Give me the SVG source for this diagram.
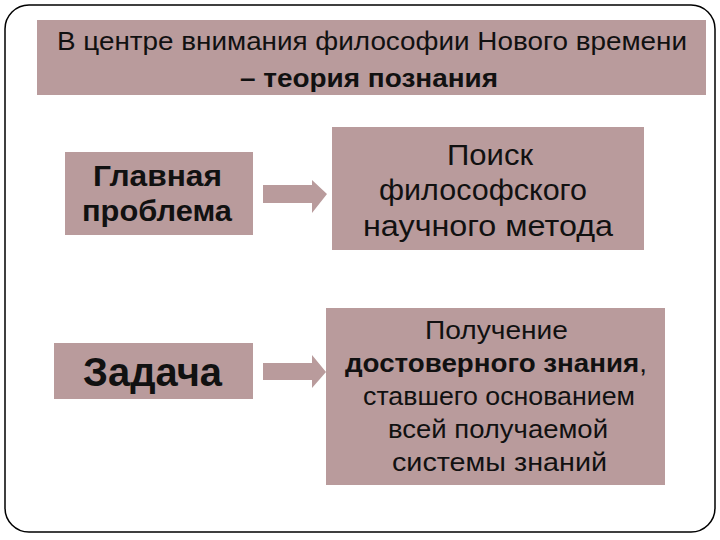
<svg xmlns="http://www.w3.org/2000/svg" width="720" height="540" viewBox="0 0 720 540">
<style>
.box{fill:#b99b9c}
.t{font-family:"Liberation Sans",Arial,sans-serif;fill:#111;text-anchor:middle}
.b{font-weight:bold}
.arrow{fill:#b99b9c}
</style>
<rect x="0" y="0" width="720" height="540" fill="#fff"/>
<rect x="5" y="5" width="710" height="527" rx="24" ry="24" fill="none" stroke="#000" stroke-width="1.5"/>
<g id="title">
<rect class="box" x="37" y="20" width="669" height="75"/>
<text class="t" x="372" y="50" font-size="26" textLength="630" lengthAdjust="spacingAndGlyphs">В центре внимания философии Нового времени</text>
<text class="t b" x="369" y="87" font-size="26" textLength="258" lengthAdjust="spacingAndGlyphs">– теория познания</text>
</g>
<g id="problem">
<rect class="box" x="65" y="152" width="188" height="83"/>
<text class="t b" x="157.5" y="186" font-size="30" textLength="129" lengthAdjust="spacingAndGlyphs">Главная</text>
<text class="t b" x="157" y="221" font-size="30" textLength="150" lengthAdjust="spacingAndGlyphs">проблема</text>
</g>
<g id="search">
<rect class="box" x="332" y="127" width="312" height="123"/>
<text class="t" x="490" y="165" font-size="29" textLength="86" lengthAdjust="spacingAndGlyphs">Поиск</text>
<text class="t" x="483" y="200" font-size="29" textLength="208" lengthAdjust="spacingAndGlyphs">философского</text>
<text class="t" x="488" y="236" font-size="29" textLength="250" lengthAdjust="spacingAndGlyphs">научного метода</text>
</g>
<g id="task">
<rect class="box" x="54" y="343" width="199" height="56"/>
<text class="t b" x="152.5" y="386" font-size="40" textLength="139" lengthAdjust="spacingAndGlyphs">Задача</text>
</g>
<g id="result">
<rect class="box" x="326" y="308" width="339" height="177"/>
<text class="t" x="496.5" y="339" font-size="25" textLength="143" lengthAdjust="spacingAndGlyphs">Получение</text>
<text class="t" x="496" y="372" font-size="25" textLength="302" lengthAdjust="spacingAndGlyphs"><tspan class="b">достоверного знания</tspan>,</text>
<text class="t" x="499" y="405" font-size="25" textLength="272" lengthAdjust="spacingAndGlyphs">ставшего основанием</text>
<text class="t" x="498" y="438" font-size="25" textLength="220" lengthAdjust="spacingAndGlyphs">всей получаемой</text>
<text class="t" x="499.5" y="471" font-size="25" textLength="215" lengthAdjust="spacingAndGlyphs">системы знаний</text>
</g>
<g id="connectors">
<polygon class="arrow" points="263,185 312,185 312,180 327,194 312,213 312,203 263,203"/>
<polygon class="arrow" points="263,363 312,363 312,355 326,372 312,388 312,380 263,380"/>
</g>
</svg>
